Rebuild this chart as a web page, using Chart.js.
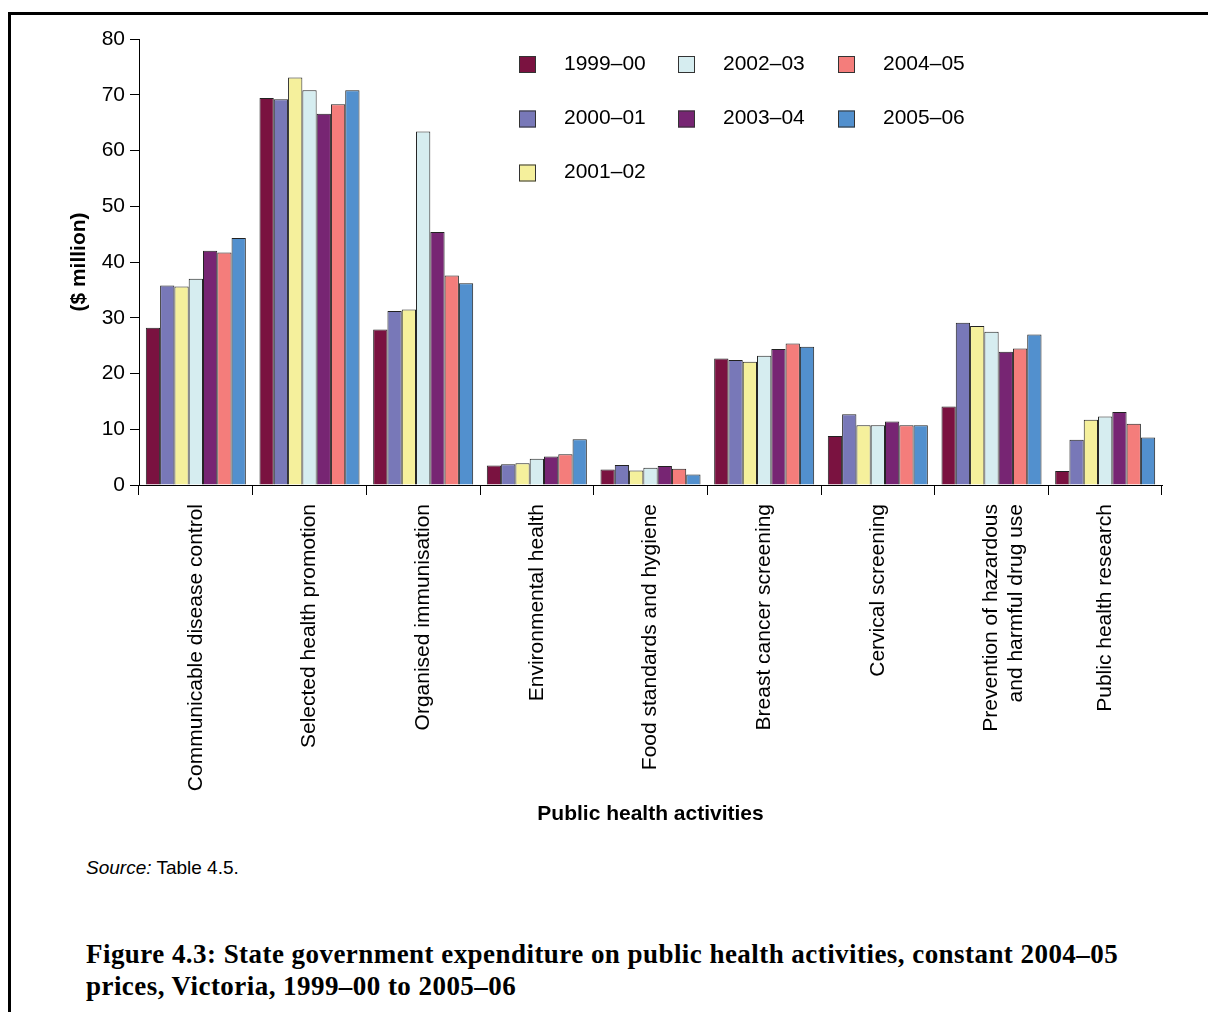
<!DOCTYPE html>
<html>
<head>
<meta charset="utf-8">
<script src="https://cdn.jsdelivr.net/npm/chart.js@4.4.0/dist/chart.umd.min.js"></script>
<style>
    body { margin: 0; background: #fff; width: 1208px; height: 1012px; overflow: hidden; position: relative; }
    #frame { position: absolute; left: 8px; top: 12px; width: 1210px; height: 1010px;
             border-top: 3px solid #000; border-left: 3px solid #000; }
    #chartBox { position: absolute; left: 0; top: 0; width: 1208px; height: 840px; }
    #source { position: absolute; left: 86px; top: 857px; margin: 0;
              font-family: "Liberation Sans", Arial, sans-serif; font-size: 19px; color: #000; }
    #caption { position: absolute; left: 86px; top: 938px; margin: 0;
               font-family: "Liberation Serif", serif; font-weight: bold; font-size: 27px;
               letter-spacing: 0.45px; line-height: 32px; color: #000; }
</style>
</head>
<body>
<div id="frame"></div>
<div id="chartBox"><canvas id="expenditureChart" width="1208" height="840"></canvas></div>
<p id="source"><i>Source:</i> Table 4.5.</p>
<p id="caption">Figure 4.3: State government expenditure on public health activities, constant 2004–05<br>prices, Victoria, 1999–00 to 2005–06</p>
<script>
/**
 * Categories (x axis), one entry per public health activity.
 * Arrays inside an entry become line breaks in the label.
 */
const activities = [
    'Communicable disease control',
    'Selected health promotion',
    'Organised immunisation',
    'Environmental health',
    'Food standards and hygiene',
    'Breast cancer screening',
    'Cervical screening',
    ['Prevention of hazardous', 'and harmful drug use'],
    'Public health research'
];

const years = ['1999–00', '2000–01', '2001–02', '2002–03', '2003–04', '2004–05', '2005–06'];

// $ million, constant 2004-05 prices
const exp1999 = [28.2, 69.4, 27.9, 3.5, 2.8, 22.7, 8.8, 14.1, 2.5];
const exp2000 = [35.8, 69.2, 31.2, 3.7, 3.6, 22.4, 12.7, 29.1, 8.1];
const exp2001 = [35.6, 73.1, 31.5, 3.9, 2.6, 22.1, 10.7, 28.5, 11.7];
const exp2002 = [37.0, 70.8, 63.4, 4.7, 3.1, 23.2, 10.7, 27.5, 12.3];
const exp2003 = [42.0, 66.6, 45.4, 5.1, 3.4, 24.4, 11.4, 23.9, 13.1];
const exp2004 = [41.7, 68.3, 37.6, 5.5, 2.9, 25.4, 10.7, 24.5, 11.0];
const exp2005 = [44.3, 70.8, 36.2, 8.2, 1.9, 24.8, 10.7, 27.0, 8.5];

const yTicks = [0, 10, 20, 30, 40, 50, 60, 70, 80];

const seriesValues = [exp1999, exp2000, exp2001, exp2002, exp2003, exp2004, exp2005];
const seriesColours = ['#7a1240', '#7878b8', '#f5f09c', '#d6edf0', '#772573', '#f47d7b', '#5290ce'];

const sansFont = '"Liberation Sans", Arial, sans-serif';

/**
 * Legend drawn inside the plot, three rows filled column by column.
 */
const cornerLegend = {
    id: 'cornerLegend',
    afterDraw(chart) {
        const c = chart.ctx;
        const colX = [519, 678, 838];
        const rowY = [64, 118.5, 172.5];
        c.save();
        c.font = '21px ' + sansFont;
        c.textBaseline = 'middle';
        chart.data.datasets.forEach((ds, i) => {
            let col, row;
            if (i < 3) { col = 0; row = i; }
            else if (i < 5) { col = 1; row = i - 3; }
            else { col = 2; row = i - 5; }
            const x = colX[col];
            const y = rowY[row];
            c.fillStyle = ds.backgroundColor;
            c.fillRect(x, y - 8, 17, 17);
            c.strokeStyle = '#333';
            c.lineWidth = 1;
            c.strokeRect(x + 0.5, y - 7.5, 16, 16);
            c.fillStyle = '#000';
            c.fillText(ds.label, x + 45, y);
        });
        c.restore();
    }
};

let ctx = document.getElementById('expenditureChart').getContext('2d');

let expenditureChart = new Chart(ctx, {
    type: 'bar',
    data: {
        labels: activities,
        datasets: years.map((y, i) => ({
            label: y,
            data: seriesValues[i],
            backgroundColor: seriesColours[i],
            borderColor: '#222',
            borderWidth: 1,
            barPercentage: 1.0,
            categoryPercentage: 0.88
        }))
    },
    options: {
        responsive: false,
        animation: false,
        layout: { padding: { left: 60, top: 39, right: 46, bottom: 0 } },
        plugins: {
            legend: { display: false },
            tooltip: { enabled: false }
        },
        scales: {
            x: {
                afterFit(scale) { scale.height = 355; },
                grid: {
                    display: true,
                    offset: true,
                    drawOnChartArea: false,
                    tickLength: 10,
                    color: '#000'
                },
                border: { display: true, color: '#000', width: 1 },
                ticks: {
                    minRotation: 90,
                    maxRotation: 90,
                    autoSkip: false,
                    padding: 9,
                    color: '#000',
                    font: { family: sansFont, size: 21 }
                },
                title: {
                    display: true,
                    text: 'Public health activities',
                    color: '#000',
                    font: { family: sansFont, size: 21, weight: 'bold' },
                    padding: { top: 0, bottom: 13 }
                }
            },
            y: {
                min: 0,
                max: 80,
                afterFit(scale) { scale.width = 79; },
                afterBuildTicks(scale) { scale.ticks = yTicks.map(v => ({ value: v })); },
                grid: {
                    display: true,
                    drawOnChartArea: false,
                    tickLength: 9,
                    color: '#000'
                },
                border: { display: true, color: '#000', width: 1 },
                ticks: {
                    padding: 5,
                    color: '#000',
                    font: { family: sansFont, size: 21 }
                },
                title: {
                    display: true,
                    text: '($ million)',
                    color: '#000',
                    font: { family: sansFont, size: 21, weight: 'bold' },
                    padding: { top: 7, bottom: 0 }
                }
            }
        }
    },
    plugins: [cornerLegend]
});
</script>
</body>
</html>
